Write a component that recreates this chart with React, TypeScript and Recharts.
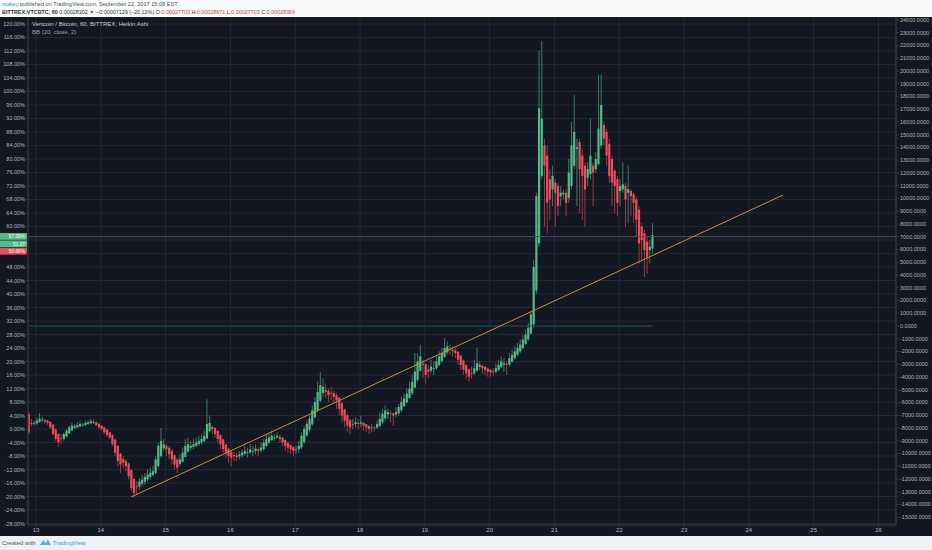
import React from 'react';
import { ComposedChart, Bar, XAxis, YAxis, CartesianGrid, ReferenceLine } from 'recharts';

// ---- data (Heikin Ashi, 60 min, values in % on the left scale) ----
const startDay = 12.89;

const opens = [
  4.5, 1.8, 1.6, 1.7, 2.1, 2.6, 2.7, 2.5, 2.1, 1.3,
  -0.1, -1.5, -2.8, -2.9, -2.2, -1.3, -0.4, 0.3, 0.5, 0.8,
  1.2, 1.2, 1.5, 1.7, 2.0, 2.0, 1.6, 1.0, 0.5, -0.2,
  -1.0, -1.8, -3.1, -5.0, -7.3, -8.9, -9.5, -10.2, -12.1, -14.8,
  -16.9, -17.0, -16.2, -15.6, -14.9, -14.2, -13.6, -13.0, -11.0, -8.0,
  -5.7, -5.1, -5.6, -6.5, -7.8, -9.1, -10.3, -9.7, -8.3, -6.7,
  -5.6, -5.3, -4.9, -4.5, -4.0, -3.5, -2.8, -0.6, 0.6, 0.3,
  -0.6, -1.8, -3.1, -4.6, -5.8, -6.9, -7.7, -7.8, -8.1, -7.8,
  -7.4, -7.0, -6.9, -6.5, -6.5, -6.1, -6.3, -5.9, -5.0, -4.0,
  -3.3, -2.6, -2.5, -2.3, -2.6, -3.3, -4.1, -4.8, -5.4, -6.0,
  -6.0, -5.5, -3.8, -1.9, -0.2, 1.4, 3.5, 5.7, 8.4, 10.7,
  11.6, 11.3, 10.6, 10.6, 10.0, 9.3, 7.6, 5.8, 4.1, 2.6,
  1.5, 1.5, 1.8, 1.6, 1.8, 1.4, 0.9, 0.5, 0.5, 0.4,
  0.9, 2.0, 3.2, 4.3, 4.7, 4.6, 4.3, 4.6, 5.6, 6.8,
  7.9, 9.2, 10.6, 12.3, 14.6, 17.3, 19.4, 19.2, 17.6, 17.3,
  17.9, 18.0, 19.0, 20.2, 21.4, 22.7, 23.6, 23.5, 23.3, 22.9,
  21.7, 20.3, 18.9, 17.7, 16.6, 16.5, 17.3, 18.4, 18.7, 18.4,
  17.9, 17.5, 17.1, 17.0, 17.5, 18.3, 19.1, 19.3, 19.1, 20.0,
  21.0, 22.0, 23.0, 24.0, 25.2, 26.6, 28.3, 31.0, 41.0, 55.0,
  75.0, 84.0, 81.0, 74.0, 71.0, 73.0, 72.0, 69.0, 69.5, 70.0,
  68.5, 72.0, 78.0, 83.0, 85.0, 81.0, 78.0, 74.5, 75.5, 78.0,
  77.0, 78.5, 84.0, 90.0, 88.0, 84.5, 80.0, 76.5, 74.0, 70.5,
  71.0, 72.0, 70.0, 70.5, 69.5, 68.0, 65.0, 60.0, 58.0, 55.5,
  53.0, 53.5,
];

const closes = [
  -1.0, 1.5, 1.8, 2.5, 3.0, 2.8, 2.2, 1.8, 0.5, -1.5,
  -3.0, -4.0, -3.0, -1.5, -0.5, 0.5, 1.0, 0.8, 1.2, 1.5,
  1.3, 1.8, 2.0, 2.3, 2.0, 1.2, 0.5, 0.0, -1.0, -1.8,
  -2.5, -4.5, -7.0, -9.5, -10.5, -10.0, -11.0, -14.0, -17.5, -19.0,
  -17.0, -15.5, -15.0, -14.2, -13.5, -13.0, -12.5, -9.0, -5.0, -3.5,
  -4.5, -6.0, -7.5, -9.0, -10.5, -11.5, -9.0, -7.0, -5.0, -4.5,
  -5.0, -4.5, -4.0, -3.5, -3.0, -2.0, 1.5, 1.8, 0.0, -1.5,
  -3.0, -4.5, -6.0, -7.0, -8.0, -8.5, -8.0, -8.3, -7.5, -7.0,
  -6.5, -6.8, -6.0, -6.5, -5.8, -6.5, -5.5, -4.0, -3.0, -2.5,
  -2.0, -2.5, -2.0, -3.0, -4.0, -5.0, -5.5, -6.0, -6.5, -6.0,
  -5.0, -2.0, 0.0, 1.5, 3.0, 5.5, 8.0, 11.0, 13.0, 12.5,
  11.0, 10.0, 10.5, 9.5, 8.5, 6.0, 4.0, 2.5, 1.0, 0.5,
  1.5, 2.0, 1.5, 2.0, 1.0, 0.5, 0.0, 0.5, 0.3, 1.5,
  3.0, 4.5, 5.5, 5.0, 4.5, 4.0, 5.0, 6.5, 8.0, 9.0,
  10.5, 12.0, 14.0, 17.0, 20.0, 21.5, 19.0, 16.0, 17.0, 18.5,
  18.0, 20.0, 21.5, 22.5, 24.0, 24.5, 23.5, 23.0, 22.5, 20.5,
  19.0, 17.5, 16.5, 15.5, 16.5, 18.0, 19.5, 19.0, 18.0, 17.5,
  17.0, 16.8, 17.0, 18.0, 19.0, 20.0, 19.5, 19.0, 21.0, 22.0,
  23.0, 24.0, 25.0, 26.5, 28.0, 30.0, 34.0, 48.0, 69.0, 95.0,
  92.0, 78.0, 67.0, 68.0, 75.0, 70.0, 66.0, 70.0, 70.0, 67.0,
  76.0, 84.0, 88.0, 83.5, 77.0, 75.0, 71.0, 77.0, 81.0, 76.0,
  80.0, 89.0, 96.0, 86.0, 81.0, 75.0, 73.0, 72.0, 67.0, 72.0,
  72.5, 68.0, 71.0, 69.0, 67.0, 62.0, 55.0, 56.0, 53.0, 51.0,
  54.0, 57.5,
];

const highs = [
  5.0, 3.0, 2.5, 3.5, 4.7, 3.5, 3.0, 2.8, 2.3, 1.5,
  0.2, -1.2, -1.5, -1.0, 0.0, 1.0, 1.8, 1.5, 2.0, 2.2,
  1.8, 2.5, 2.6, 3.0, 2.8, 2.3, 1.8, 1.2, 0.7, 0.0,
  -0.8, -1.5, -2.8, -4.8, -7.0, -8.0, -9.0, -10.0, -12.0, -14.5,
  -15.5, -14.5, -13.5, -13.0, -12.0, -11.5, -11.0, -8.0, -4.0, 0.3,
  -3.0, -4.5, -5.0, -6.0, -7.5, -8.5, -7.5, -5.5, -3.0, -2.5,
  -3.5, -3.0, -2.5, -2.0, -1.5, -0.5, 8.8, 4.0, 1.0, 0.5,
  -0.3, -1.5, -2.8, -4.3, -5.5, -6.5, -6.8, -7.0, -6.5, -6.0,
  -5.0, -5.5, -4.5, -5.0, -4.5, -5.5, -4.0, -3.0, -1.5, -1.0,
  -0.5, -1.5, -1.0, -1.8, -2.3, -3.0, -3.8, -4.5, -5.0, -5.0,
  -3.5, -1.0, 1.0, 2.5, 4.0, 7.0, 9.5, 14.0, 16.9, 15.0,
  13.5, 12.0, 12.5, 11.5, 10.5, 9.5, 8.0, 6.0, 4.5, 3.0,
  3.0, 3.5, 3.0, 4.0, 2.0, 1.5, 1.2, 1.5, 1.0, 2.5,
  5.0, 6.0, 7.0, 6.0, 5.5, 5.0, 6.5, 7.5, 9.5, 10.5,
  12.0, 14.0, 16.0, 22.5, 22.5, 25.0, 20.5, 19.5, 19.0, 20.5,
  20.0, 22.0, 23.0, 24.0, 27.0, 26.0, 25.0, 24.5, 24.0, 23.2,
  22.0, 20.6, 19.2, 18.0, 18.5, 20.5, 24.0, 20.0, 19.2, 18.8,
  18.2, 17.8, 18.0, 19.5, 20.5, 21.5, 21.0, 20.0, 22.5, 23.5,
  24.5, 25.5, 26.5, 28.0, 29.5, 31.5, 35.0, 50.0, 70.0, 112.0,
  115.0, 86.0, 84.0, 77.0, 78.0, 74.0, 73.0, 72.0, 71.0, 71.0,
  80.0, 91.0, 99.0, 86.0, 86.0, 83.0, 79.0, 79.0, 92.0, 79.0,
  82.0, 105.0, 105.0, 91.0, 89.0, 86.0, 81.0, 77.0, 75.0, 74.0,
  79.0, 73.0, 78.0, 71.0, 70.0, 69.0, 66.0, 61.0, 59.0, 57.0,
  56.0, 61.0,
];

const lows = [
  -1.5, 0.8, 1.0, 1.2, 1.8, 2.0, 1.5, 1.2, 0.0, -2.0,
  -3.5, -5.3, -4.5, -3.5, -2.5, -1.5, -0.6, 0.0, 0.2, 0.5,
  0.6, 0.8, 1.2, 1.4, 1.5, 0.8, 0.0, -0.5, -1.5, -2.3,
  -3.0, -5.0, -8.0, -11.0, -13.0, -11.5, -12.5, -15.0, -18.5, -20.3,
  -19.5, -18.0, -17.0, -16.5, -15.5, -15.0, -14.0, -13.5, -11.5, -8.5,
  -6.5, -8.0, -9.0, -10.5, -12.0, -13.0, -11.0, -10.0, -8.5, -7.0,
  -6.5, -6.0, -5.5, -5.0, -4.5, -4.0, -3.0, -1.0, -1.5, -2.5,
  -4.0, -6.0, -7.0, -8.5, -10.0, -11.0, -9.5, -9.5, -9.0, -8.5,
  -8.0, -8.5, -7.5, -8.0, -7.5, -8.0, -7.0, -6.5, -5.5, -4.5,
  -3.5, -3.5, -3.0, -4.0, -5.0, -6.5, -7.0, -7.5, -8.0, -7.5,
  -7.0, -6.0, -4.5, -2.5, -1.0, 1.0, 3.0, 5.0, 8.0, 9.5,
  9.0, 8.0, 8.5, 7.5, 6.0, 4.0, 2.0, 0.5, -1.0, -1.5,
  0.0, 0.5, 0.0, 0.5, -0.5, -1.0, -1.5, -1.0, -0.8, 0.0,
  0.5, 1.5, 2.5, 3.0, 2.0, 1.0, 3.5, 4.0, 5.0, 6.5,
  7.5, 9.0, 10.0, 12.0, 14.0, 17.0, 15.0, 13.5, 15.0, 16.5,
  16.0, 17.5, 18.5, 19.5, 21.0, 22.0, 22.0, 21.5, 21.0, 19.0,
  17.5, 16.0, 15.0, 14.0, 15.0, 16.0, 17.0, 17.5, 16.5, 16.0,
  15.5, 15.5, 15.8, 16.5, 17.0, 18.0, 17.0, 16.0, 18.5, 19.5,
  20.5, 21.5, 22.5, 23.5, 25.0, 26.0, 28.0, 30.0, 40.0, 54.0,
  74.0, 60.0, 58.0, 62.0, 66.0, 60.0, 63.0, 66.0, 68.0, 63.0,
  67.0, 71.0, 77.0, 66.0, 64.0, 62.0, 60.0, 72.0, 74.0, 66.0,
  76.0, 78.0, 83.0, 84.0, 78.0, 73.0, 66.0, 64.0, 63.0, 66.0,
  70.0, 60.0, 61.0, 63.0, 61.0, 57.0, 49.0, 50.0, 45.0, 46.0,
  49.0, 52.0,
];

const dayTicks = [13, 14, 15, 16, 17, 18, 19, 20, 21, 22, 23, 24, 25, 26];
const pctTicks = [
  120, 116, 112, 108, 104, 100, 96, 92, 88, 84, 80, 76, 72, 68, 64, 60, 56, 52, 48,
  44, 40, 36, 32, 28, 24, 20, 16, 12, 8, 4, 0, -4, -8, -12, -16, -20, -24, -28,
];
// axis labels hidden behind the last-price tags
const coveredPctLabels = [56, 52];
const rightTicks = [
  24000, 23000, 22000, 21000, 20000, 19000, 18000, 17000, 16000, 15000, 14000, 13000,
  12000, 11000, 10000, 9000, 8000, 7000, 6000, 5000, 4000, 3000, 2000, 1000, 0,
  -1000, -2000, -3000, -4000, -5000, -6000, -7000, -8000, -9000, -10000, -11000,
  -12000, -13000, -14000, -15000,
];

// trend line anchors (day, %) and last-price tags
const trendStart = { x: 14.466, y: -20.15 };
const trendEnd = { x: 24.528, y: 69.33 };
const lastHA = 57.0;
const priceTags = [
  { text: '57.00%', color: '#53b987' },
  { text: '51.07', color: '#53b987' },
  { text: '50.66%', color: '#eb4d5c' },
];

const rows = closes.map((c, i) => ({
  t: startDay + i / 24,
  o: opens[i],
  h: highs[i],
  l: lows[i],
  c,
  range: [lows[i], highs[i]],
}));

const GREEN = '#53b987';
const RED = '#eb4d5c';
const BG = '#131722';
const GRID = '#242835';
const AXIS_TEXT = '#b2b5be';
const FONT = '"Liberation Sans", Arial, sans-serif';

function Candle(props: any) {
  const { x, y, width, height, payload } = props;
  if (!payload || x == null || y == null) return null;
  const { o, h, l, c } = payload;
  const top = Math.min(y, y + height);
  const bot = Math.max(y, y + height);
  const span = h - l || 1;
  const py = (v: number) => top + ((h - v) / span) * (bot - top);
  const cx = x + width / 2;
  const col = c >= o ? GREEN : RED;
  const bTop = py(Math.max(o, c));
  const bBot = py(Math.min(o, c));
  return (
    <g>
      <line x1={cx} x2={cx} y1={top} y2={bot} stroke={col} strokeWidth={0.8} strokeOpacity={0.8} />
      <rect x={cx - 1.1} y={bTop} width={2.2} height={Math.max(0.8, bBot - bTop)} fill={col} />
    </g>
  );
}

function PctTick(props: any) {
  const { x, y, payload } = props;
  const v = payload?.value;
  if (coveredPctLabels.includes(v)) return null;
  return (
    <text x={x} y={y} dy={2} textAnchor="end" fontSize={5.5} fontFamily={FONT} fill={AXIS_TEXT}>
      {`${Number(v).toFixed(2)}%`}
    </text>
  );
}

function Tags(props: any) {
  const vb = props.viewBox || {};
  const y0 = vb.y ?? 0;
  return (
    <g>
      {priceTags.map((tg, k) => (
        <g key={k}>
          <rect x={0} y={y0 - 3.6 + k * 7.4} width={27} height={6.8} fill={tg.color} />
          <text
            x={25}
            y={y0 + 1.7 + k * 7.4}
            textAnchor="end"
            fontSize={4.8}
            fontFamily={FONT}
            fill="#ffffff"
          >
            {tg.text}
          </text>
        </g>
      ))}
    </g>
  );
}

export default function App() {
  return (
    <div
      style={{
        position: 'absolute',
        left: 0,
        top: 0,
        width: 932,
        height: 550,
        background: '#eef1f5',
        fontFamily: FONT,
        overflow: 'hidden',
      }}
    >
      <div style={{ position: 'absolute', left: 0, top: 0, width: 932, height: 17, background: '#f9fafb' }} />
      <div style={{ position: 'absolute', left: 2, top: 1, fontSize: 5.6, color: '#555', whiteSpace: 'nowrap' }}>
        <span style={{ color: '#3a9ad9' }}>rsakey</span> published on TradingView.com, September 22, 2017 15:08 EST
      </div>
      <div
        style={{ position: 'absolute', left: 2, top: 9, fontSize: 5.4, color: '#333', whiteSpace: 'nowrap', fontWeight: 'bold' }}
      >
        BITTREX:VTCBTC, 60 <span style={{ fontWeight: 'normal' }}>0.00028302 </span>
        <span style={{ color: '#e0393e' }}>▼</span>
        <span style={{ fontWeight: 'normal' }}> −0.00007129 (−20.12%) </span>
        <span style={{ fontWeight: 'normal' }}>O:</span>
        <span style={{ color: '#e0393e', fontWeight: 'normal' }}>0.00027703</span>
        <span style={{ fontWeight: 'normal' }}> H:</span>
        <span style={{ color: '#e0393e', fontWeight: 'normal' }}>0.00028671</span>
        <span style={{ fontWeight: 'normal' }}> L:</span>
        <span style={{ color: '#e0393e', fontWeight: 'normal' }}>0.00027703</span>
        <span style={{ fontWeight: 'normal' }}> C:</span>
        <span style={{ color: '#e0393e', fontWeight: 'normal' }}>0.00028364</span>
      </div>

      <div style={{ position: 'absolute', left: 0, top: 17, width: 932, height: 519, background: BG }}>
        <ComposedChart
          width={932}
          height={519}
          data={rows}
          margin={{ top: 0, right: 0, bottom: 0, left: 0 }}
        >
          <CartesianGrid stroke={GRID} strokeWidth={1} />
          <XAxis
            dataKey="t"
            type="number"
            domain={[12.877, 26.27]}
            ticks={dayTicks}
            interval={0}
            allowDataOverflow
            height={11}
            tickSize={2}
            tickMargin={1}
            tick={{ fontSize: 6, fill: AXIS_TEXT, fontFamily: FONT }}
            stroke="#363a45"
          />
          <YAxis
            orientation="left"
            width={28}
            domain={[-28.44, 122.07]}
            ticks={pctTicks}
            interval={0}
            allowDataOverflow
            tickSize={2}
            tickMargin={1}
            tick={<PctTick />}
            stroke="#363a45"
          />
          <YAxis
            yAxisId="right"
            orientation="right"
            width={36}
            domain={[-15608, 24235]}
            ticks={rightTicks}
            interval={0}
            allowDataOverflow
            tickSize={3}
            tickMargin={1}
            tickFormatter={(v: number) => v.toFixed(4)}
            tick={{ fontSize: 5.5, fill: AXIS_TEXT, fontFamily: FONT }}
            stroke="#363a45"
          />
          <ReferenceLine
            yAxisId="right"
            segment={[
              { x: rows[0].t, y: 0 },
              { x: rows[rows.length - 1].t, y: 0 },
            ]}
            stroke="#1f5a63"
            strokeWidth={1}
          />
          <ReferenceLine y={lastHA} stroke="#4a5262" strokeWidth={1} label={(p: any) => <Tags {...p} />} />
          <Bar dataKey="range" barSize={3} isAnimationActive={false} shape={(p: any) => <Candle {...p} />} />
          <ReferenceLine segment={[trendStart, trendEnd]} stroke="#c8913a" strokeWidth={1} />
        </ComposedChart>
        <div style={{ position: 'absolute', left: 32, top: 4, fontSize: 6, color: '#c8cbd3', whiteSpace: 'nowrap' }}>
          Vertcoin / Bitcoin, 60, BITTREX, Heikin Ashi
        </div>
        <div style={{ position: 'absolute', left: 32, top: 12, fontSize: 6, color: '#a0a3ab', whiteSpace: 'nowrap' }}>
          BB (20, close, 2)
        </div>
      </div>

      <div style={{ position: 'absolute', left: 2, top: 539, fontSize: 6, color: '#555', whiteSpace: 'nowrap', display: 'flex', alignItems: 'center' }}>
        <span>Created with</span>
        <svg width={11} height={7} style={{ marginLeft: 4, marginRight: 2 }}>
          <path d="M0 6 L3 1 L5.5 4 L8 0.5 L11 6 Z" fill="#5ab0e6" />
        </svg>
        <span style={{ color: '#3a9ad9' }}>TradingView</span>
      </div>
    </div>
  );
}
